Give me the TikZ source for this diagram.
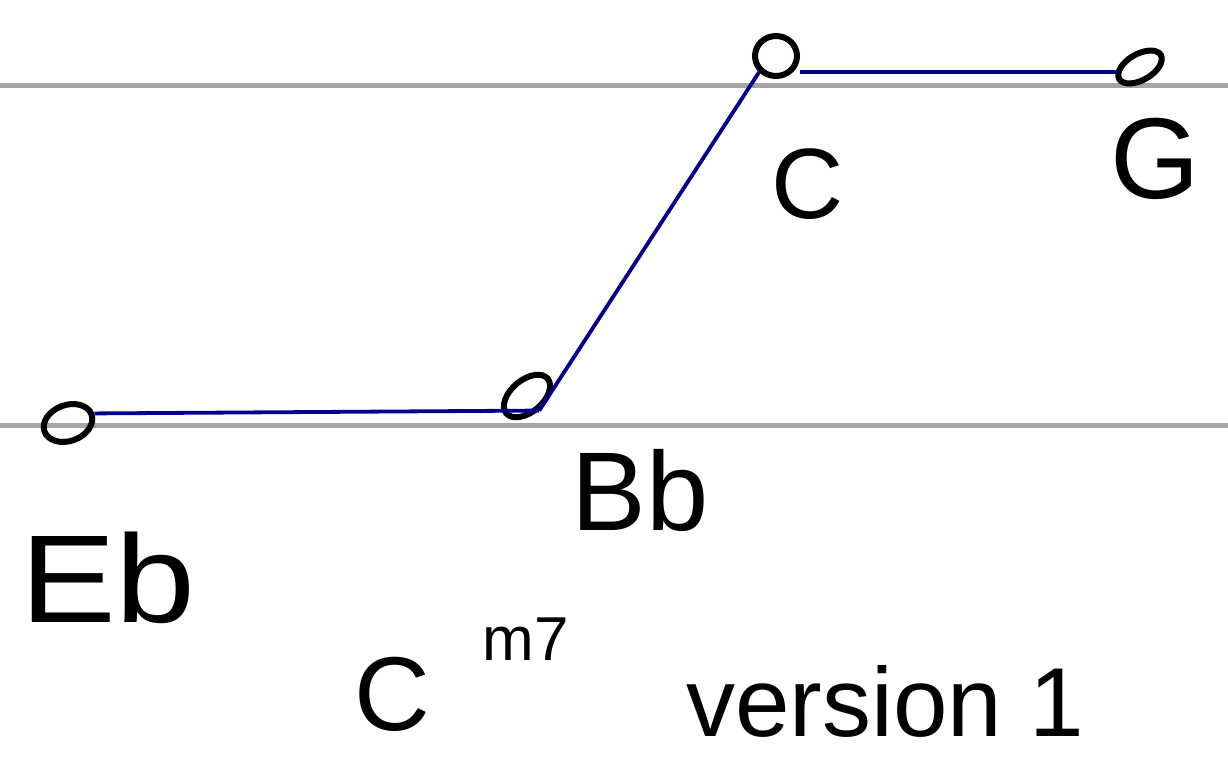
\documentclass[tikz,border=0pt]{standalone}
\usepackage{fontspec}
\setmainfont{Liberation Sans}
\usetikzlibrary{shapes.geometric}
\definecolor{linkblue}{RGB}{0,0,140}
\definecolor{staffgray}{RGB}{165,165,165}
\begin{document}
\begin{tikzpicture}[x=1pt,y=-1pt,
  staff/.style={line width=5pt, draw=staffgray},
  note/.style={draw=black, ellipse, line width=6pt, inner sep=0pt},
  conn/.style={line width=3.8pt, draw=linkblue},
  lab/.style={font=\fontsize{100}{110}\selectfont, inner sep=0pt, anchor=base}]
\useasboundingbox (0,0) rectangle (1228,758);
\fill[white] (0,0) rectangle (1228,758);
% staff lines
\draw[staff] (0,85) -- (1228,85);
\draw[staff] (0,425) -- (1228,425);
% notes
\node[note, minimum width=50pt, minimum height=36pt, rotate=20] (eb) at (68,423) {};
\node[note, minimum width=54pt, minimum height=32pt, rotate=40] (bb) at (527,396) {};
\node[note, minimum width=42pt, minimum height=40pt] (c) at (776,56) {};
\node[note, minimum width=48pt, minimum height=26pt, rotate=30] (g) at (1140,67) {};
% connectors
\draw[conn] (eb.east) -- (bb.south);
\draw[conn] (bb.south) -- (c.south west);
\draw[conn] (c.east |- 0,72) coordinate (cg) -- (g.west |- 0,72);
% labels
\node[lab] (lc) at (808,218) {C};
\node[lab, font=\fontsize{115}{120}\selectfont] (lg) at (1155,198) {G};
\node[lab, font=\fontsize{112}{120}\selectfont] (lbb) at (640,530) {Bb};
\node[lab, font=\fontsize{125}{130}\selectfont, xscale=1.15] (leb) at (108,622) {Eb};
\node[lab, font=\fontsize{105}{115}\selectfont] (lcm) at (392,730) {C};
\node[lab, font=\fontsize{62}{70}\selectfont] (lm7) at (526,660) {m7};
\node[lab, font=\fontsize{98}{110}\selectfont] (lver) at (885,736) {version 1};
\end{tikzpicture}
\end{document}
